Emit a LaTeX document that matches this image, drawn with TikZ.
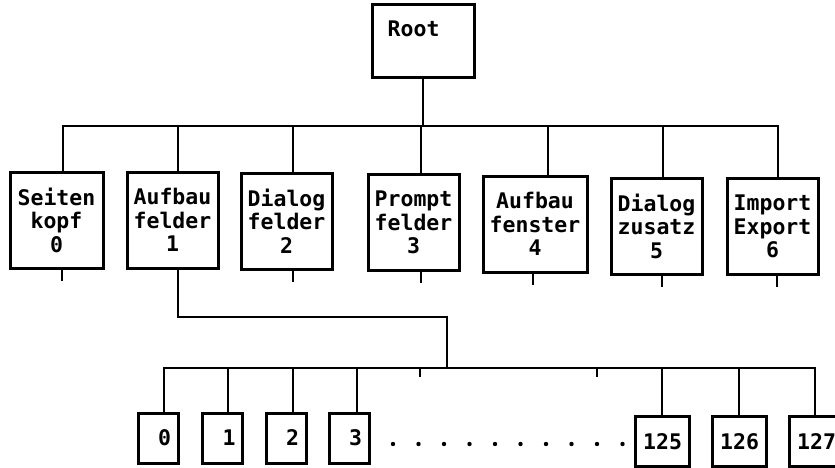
\documentclass[tikz,border=0pt]{standalone}
\usepackage{fontspec}
\newfontfamily\plotterfont{DejaVu Sans Mono}

\begin{document}
\begin{tikzpicture}[x=1pt, y=-1pt,
  every node/.style={font=\plotterfont\bfseries\fontsize{21.5}{23.5}\selectfont},
  feld/.style={draw, line width=3pt, align=center, inner sep=0pt, minimum width=91pt, minimum height=96pt},
  nummer/.style={draw, line width=3pt, align=right, inner sep=0pt, minimum height=50pt},
  ast/.style={line width=2.6pt, line cap=rect}]
 \useasboundingbox (0,0) rectangle (835,468);
 \clip (0,0) rectangle (835,468);
 % Wurzel und erste Ebene
 \node[feld, minimum width=102pt, minimum height=73pt,
   label={[inner sep=0pt, anchor=north west, xshift=17pt, yshift=-17pt]north west:Root}] (root) at (423,41.5) {};
 \node[feld, minimum width=93pt] (seiten) at (56.5,220) {Seiten\\kopf\\0};
 \node[feld] (aufbau) at (172.5,220) {Aufbau\\felder\\1};
 \node[feld] (dialog) at (286.5,221) {Dialog\\felder\\2};
 \node[feld] (prompt) at (413.5,222.5) {Prompt\\felder\\3};
 \node[feld, minimum width=104pt] (fenster) at (535,224) {Aufbau\\fenster\\4};
 \node[feld] (zusatz) at (656.5,226) {Dialog\\zusatz\\5};
 \node[feld] (import) at (772.5,226.5) {Import\\Export\\6};
 \coordinate (busL) at (63,126);
 \coordinate (busR) at (778,126);
 \draw[ast] (root.south) -- (root.south |- busL);
 \draw[ast] (busL) -- (busR);
 \foreach \n/\x/\u in {seiten/63/62, aufbau/178/178, dialog/293/293, prompt/421/421, fenster/548/533, zusatz/663/662, import/778/777} {
   \coordinate (stem-\n) at (\x,126);
   \coordinate (stub-\n) at (\u,126);
   \draw[ast] (stem-\n) -- (stem-\n |- \n.north);
 }
 \foreach \n in {seiten, dialog, prompt, fenster, zusatz, import}
   \draw[ast] (stub-\n |- \n.south) -- ++(0,10);
 % zweite Ebene unter Aufbaufelder
 \coordinate (knick) at (447,317);
 \coordinate (unten) at (447,368);
 \coordinate (untenL) at (164,368);
 \coordinate (untenR) at (815,368);
 \draw[ast] (stem-aufbau |- aufbau.south) |- (knick) -- (unten);
 \draw[ast] (untenL) -- (untenR);
 \node[nummer, minimum width=40pt, text width=26pt] (n0) at (158,438) {0};
 \node[nummer, minimum width=40pt, text width=26pt] (n1) at (222.5,438) {1};
 \node[nummer, minimum width=40pt, text width=26pt] (n2) at (286,438) {2};
 \node[nummer, minimum width=40pt, text width=26pt] (n3) at (349,438) {3};
 \node[nummer, minimum width=54pt, text width=40pt] (n125) at (662,441.5) {125};
 \node[nummer, minimum width=54pt, text width=40pt] (n126) at (739,441.5) {126};
 \node[nummer, minimum width=54pt, text width=40pt] (n127) at (816,441.5) {127};
 \foreach \n/\x in {n0/164, n1/228, n2/293, n3/357, n125/662, n126/739, n127/815} {
   \coordinate (ast-\n) at (\x,368);
   \draw[ast] (ast-\n) -- (ast-\n |- \n.north);
 }
 \coordinate (luecke1) at (420,368);
 \coordinate (luecke2) at (597,368);
 \draw[ast] (luecke1) -- ++(0,8);
 \draw[ast] (luecke2) -- ++(0,8);
 \foreach \i in {0,...,9}
   \fill (393+25.5*\i,444) circle[radius=2.2pt];
\end{tikzpicture}
\end{document}
